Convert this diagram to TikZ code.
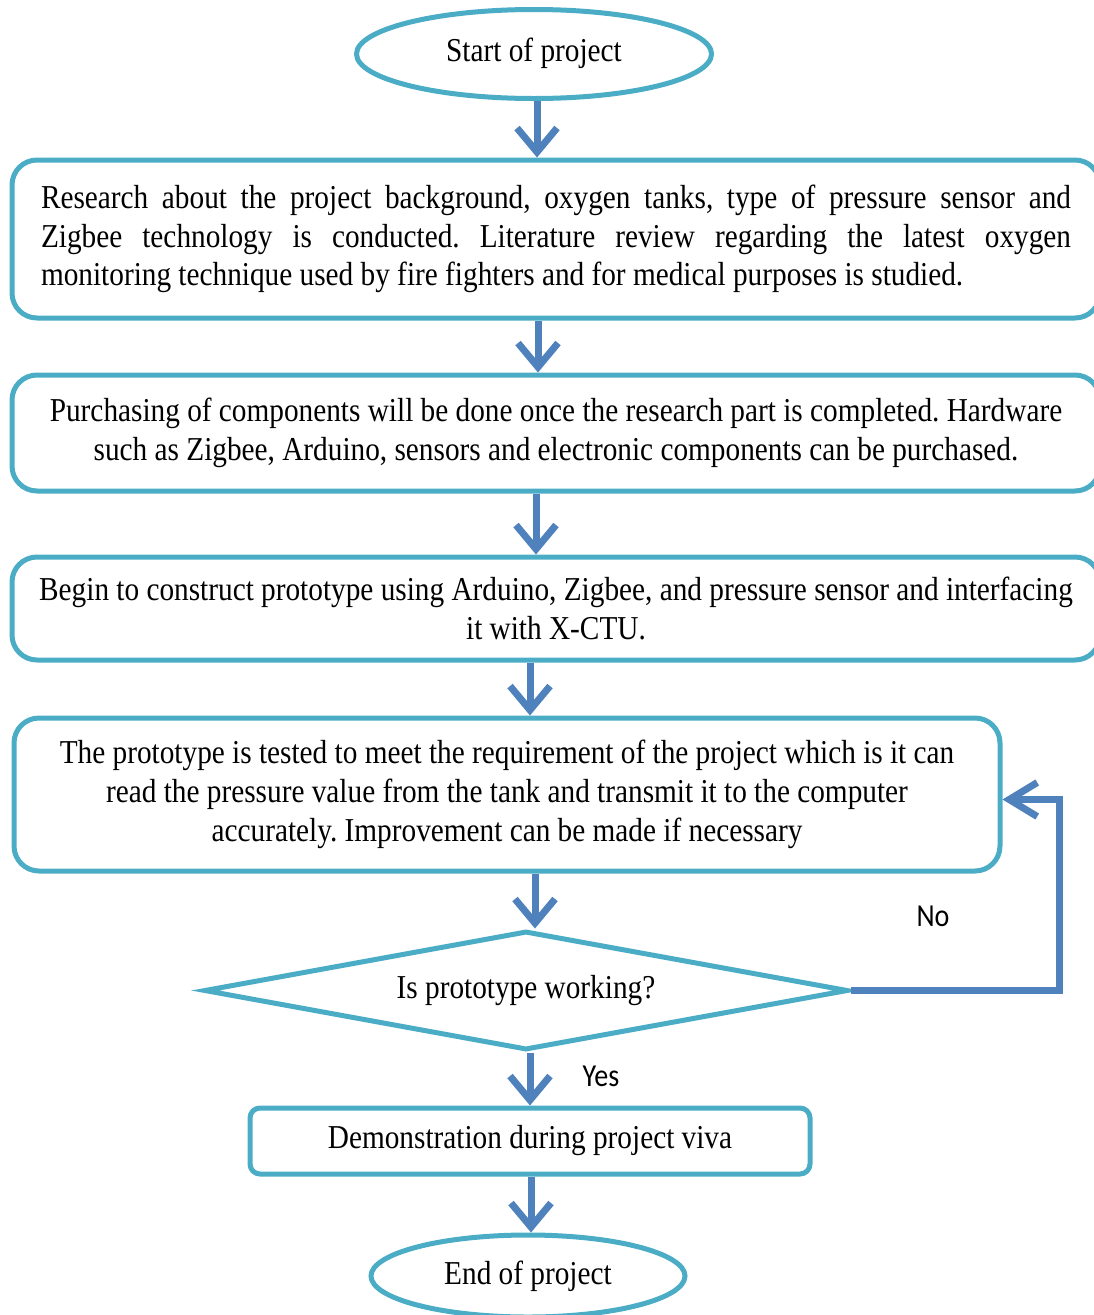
\documentclass[tikz,border=0pt]{standalone}
\usepackage{fontspec}
\setmainfont{Liberation Serif}[FakeStretch=0.877]
\newfontfamily\lblfont{Carlito}[FakeStretch=0.877]
\usetikzlibrary{shapes.geometric,arrows.meta,calc}
\definecolor{boxblue}{HTML}{4BACC6}
\definecolor{arrowblue}{HTML}{4F81BD}
\newcommand\bodyfont{\fontsize{33.4pt}{38.7pt}\selectfont
  \fontdimen2\font=7.3pt\fontdimen3\font=6pt\fontdimen4\font=2pt\frenchspacing}
\tikzset{
  base/.style={draw=boxblue, line width=5pt, inner sep=0pt, text=black,
    font=\bodyfont},
  bigbox/.style={base, rectangle, rounded corners=25pt},
  smallbox/.style={base, rectangle, rounded corners=10pt},
  oval/.style={base, ellipse},
  decision/.style={base, diamond, aspect=5.51},
  arr/.style={draw=arrowblue, line width=7pt,
    -{Straight Barb[length=24pt,width=40pt]}},
  lbl/.style={inner sep=0pt, font=\lblfont\fontsize{32pt}{36pt}\selectfont}
}
\begin{document}
\begin{tikzpicture}[x=1pt,y=-1pt]
\useasboundingbox (0,0) rectangle (1094,1315);
\clip (0,0) rectangle (1094,1315);

\node[oval, minimum width=355pt, minimum height=89pt] (start) at (534,54)
  {\raisebox{8pt}{Start of project}};

\node[bigbox, minimum width=1088pt, minimum height=158pt, text width=1030pt,
  align=justify] (research) at (556,239)
  {Research about the project background, oxygen tanks, type of pressure sensor and\linebreak
   Zigbee technology is conducted. Literature review regarding the latest oxygen\linebreak
   monitoring technique used by fire fighters and for medical purposes is studied.};

\node[bigbox, minimum width=1088pt, minimum height=116pt, text width=1080pt,
  align=flush center] (purchase) at (556,433)
  {\raisebox{2pt}{Purchasing of components will be done once the research part is completed. Hardware}\\
   \raisebox{2pt}{such as Zigbee, Arduino, sensors and electronic components can be purchased.}};

\node[bigbox, minimum width=1088pt, minimum height=103pt, text width=1080pt,
  align=flush center] (construct) at (556,608.5)
  {Begin to construct prototype using Arduino, Zigbee, and pressure sensor and interfacing\\
   it with X-CTU.};

\node[bigbox, minimum width=986pt, minimum height=153pt, text width=970pt,
  align=flush center] (test) at (507,794.5)
  {The prototype is tested to meet the requirement of the project which is it can\\
   read the pressure value from the tank and transmit it to the computer\\
   accurately. Improvement can be made if necessary};

\node[decision, minimum width=644pt, minimum height=119pt] (check) at (526,990.5)
  {\raisebox{8pt}{Is prototype working?}};

\node[smallbox, minimum width=560pt, minimum height=66pt] (demo) at (530,1141)
  {\raisebox{-3pt}{Demonstration during project viva}};

\node[oval, minimum width=314pt, minimum height=82pt] (end) at (528,1276)
  {\raisebox{4pt}{End of project}};

\node[lbl] (no) at (933,916) {No};
\node[lbl] (yes) at (601,1076) {Yes};

\draw[arr] ([xshift=3pt]start.south) -- ([xshift=3pt]start.south |- research.north);
\draw[arr] ([xshift=-18pt]research.south) -- ([xshift=-18pt]research.south |- purchase.north);
\draw[arr] ([xshift=-20pt]purchase.south) -- ([xshift=-20pt]purchase.south |- construct.north);
\draw[arr] ([xshift=-26pt]construct.south) -- ([xshift=-26pt]construct.south |- test.north);
\draw[arr] ([xshift=28pt]test.south) -- ([xshift=28pt]test.south |- check.north);
\draw[arr] ([xshift=4pt]check.south) -- ([xshift=4pt]check.south |- demo.north);
\draw[arr] ([xshift=1pt]demo.south) -- ([xshift=1pt]demo.south |- end.north);
\draw[arr, -{Straight Barb[length=28pt,width=34pt]}]
  (check.east) -| ([xshift=57pt,yshift=-5pt]test.east) -- ([yshift=-5pt]test.east);
\end{tikzpicture}
\end{document}
